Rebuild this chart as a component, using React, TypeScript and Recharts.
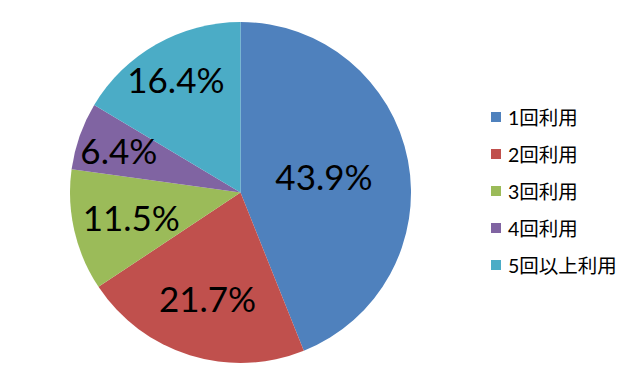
import React from "react";
import { PieChart, Pie, Cell, Legend } from "recharts";

const categories = ["1回利用", "2回利用", "3回利用", "4回利用", "5回以上利用"];
const shares = [43.9, 21.7, 11.5, 6.4, 16.4];
const colors = ["#4F81BD", "#C0504D", "#9BBB59", "#8064A2", "#4BACC6"];

const data = categories.map((name, i) => ({ name, value: shares[i] }));

const LABEL_RADII = [85, 111, 112, 129, 131];
const RAD = Math.PI / 180;

const renderLabel = (props: any) => {
  const { cx, cy, midAngle, index, value } = props;
  const r = LABEL_RADII[index];
  const x = cx + r * Math.cos(-midAngle * RAD);
  const y = cy + r * Math.sin(-midAngle * RAD);
  return (
    <text
      x={x}
      y={y}
      fill="#000"
      textAnchor="middle"
      dominantBaseline="central"
      fontSize={35}
      fontFamily="Lato, 'Open Sans', sans-serif"
    >
      {value.toFixed(1)}%
    </text>
  );
};

const renderLegend = () => (
  <div style={{ fontFamily: "Lato, 'Noto Sans CJK JP', sans-serif", fontSize: 19.5, color: "#000" }}>
    {categories.map((c, i) => (
      <div key={c} style={{ display: "flex", alignItems: "center", height: 37 }}>
        <span style={{ width: 10, height: 10, background: colors[i], display: "inline-block", marginRight: 7 }} />
        <span>{c}</span>
      </div>
    ))}
  </div>
);

export default function App() {
  return (
    <div style={{ position: "absolute", left: 0, top: 0, width: 643, height: 386, background: "#fff" }}>
      <PieChart width={643} height={386} margin={{ top: 0, right: 0, bottom: 0, left: 0 }}>
        <Pie
          data={data}
          dataKey="value"
          nameKey="name"
          cx={240.5}
          cy={192.5}
          outerRadius={170.5}
          startAngle={90}
          endAngle={-270}
          stroke="none"
          label={renderLabel}
          labelLine={false}
          isAnimationActive={false}
        >
          {data.map((d, i) => (
            <Cell key={d.name} fill={colors[i]} />
          ))}
        </Pie>
        <Legend
          content={renderLegend}
          wrapperStyle={{ position: "absolute", left: 491, top: 98, width: 150 }}
        />
      </PieChart>
    </div>
  );
}
